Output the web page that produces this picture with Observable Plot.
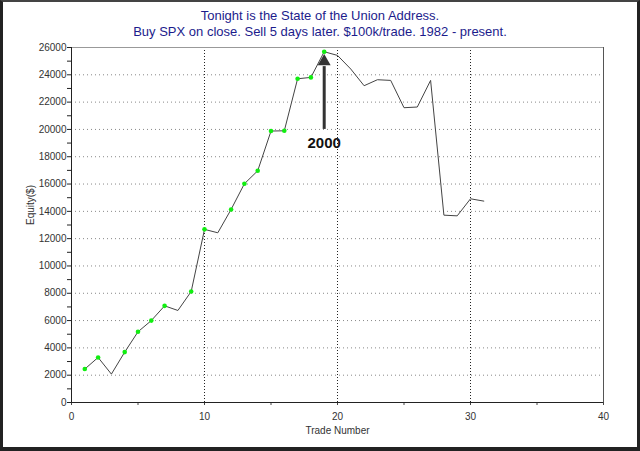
<!DOCTYPE html>
<html>
<head>
<meta charset="utf-8">
<script src="https://cdn.jsdelivr.net/npm/d3@7"></script>
<script src="https://cdn.jsdelivr.net/npm/@observablehq/plot@0.6"></script>
<style>
  html, body { margin: 0; padding: 0; background: #fff; }
  #wrap {
    width: 640px; height: 451px; box-sizing: border-box;
    border-left: 3px solid #222; border-right: 3px solid #222;
    border-top: 2px solid #444; border-bottom: 4px solid #222;
    background: #fff; overflow: hidden;
  }
  #title {
    height: 36px; box-sizing: border-box; padding-top: 6px;
    font-family: "Liberation Sans", Arial, sans-serif; font-size: 13px; line-height: 16px;
    color: #1c1c8c; text-align: center;
  }
  #chart svg { display: block; overflow: visible; }
</style>
</head>
<body>
<div id="wrap">
  <div id="title">Tonight is the State of the Union Address.<br>Buy SPX on close. Sell 5 days later. $100k/trade. 1982 - present.</div>
  <div id="chart"></div>
</div>
<script>
// Data
const trades = [1,2,3,4,5,6,7,8,9,10,11,12,13,14,15,16,17,18,19,20,21,22,23,24,25,26,27,28,29,30,31];
const equity = [2450,3300,2080,3690,5180,6000,7080,6740,8130,12680,12430,14140,16020,16970,19880,19900,23710,23810,25690,25420,24420,23200,23640,23590,21590,21640,23590,13720,13670,14920,14750];
const highTrades = [1,2,4,5,6,7,9,10,12,13,14,15,16,17,18,19];

const xTicks = [0,5,10,15,20,25,30,35,40];
const xLabelTicks = [0,10,20,30,40];
const yTicks = [0,1000,2000,3000,4000,5000,6000,7000,8000,9000,10000,11000,12000,13000,14000,15000,16000,17000,18000,19000,20000,21000,22000,23000,24000,25000,26000];
const yLabelTicks = [0,2000,4000,6000,8000,10000,12000,14000,16000,18000,20000,22000,24000,26000];
const yGrid = [2000,4000,6000,8000,10000,12000,14000,16000,18000,20000,22000,24000];
const xGrid = [10,20,30];

// Annotation
const annTrade = [19];
const annLabel = ["2000"];
const annLabelY = [19000];
const arrowFrom = [20000];
const arrowHeadBase = [24600];
const arrowHeadY = [24980];

const data = trades.map((t, i) => ({trade: t, equity: equity[i]}));
const highs = data.filter(d => highTrades.includes(d.trade));
const ann = annTrade.map((t, i) => ({trade: t, label: annLabel[i], ly: annLabelY[i], y1: arrowFrom[i], y2: arrowHeadBase[i], hy: arrowHeadY[i]}));

const chart = Plot.plot({
  width: 634,
  height: 409,
  marginLeft: 68,
  marginRight: 34,
  marginTop: 9,
  marginBottom: 45,
  style: {fontFamily: "'Liberation Sans', Arial, sans-serif", fontSize: "10px", color: "#333", background: "#fff", overflow: "visible"},
  x: {domain: [0, 40], label: null},
  y: {domain: [0, 26000], label: null},
  marks: [
    Plot.gridY(yGrid, {stroke: "#888", strokeOpacity: 1, strokeDasharray: "1,3"}),
    Plot.gridX(xGrid, {stroke: "#222", strokeOpacity: 1, strokeDasharray: "1,2"}),
    Plot.ruleY([26000], {stroke: "#999", strokeWidth: 1}),
    Plot.ruleX([40], {stroke: "#555", strokeWidth: 1}),
    Plot.axisY({ticks: yTicks, tickSize: 4, tickPadding: 1, tickFormat: d => yLabelTicks.includes(d) ? String(d) : "", stroke: "#222", fill: "#333"}),
    Plot.axisX({ticks: xTicks, tickSize: 3, tickPadding: 7, tickFormat: d => xLabelTicks.includes(d) ? String(d) : "", stroke: "#444", fill: "#333"}),
    Plot.ruleY([0], {stroke: "#222"}),
    Plot.ruleX([0], {stroke: "#222"}),
    Plot.text(["Trade Number"], {frameAnchor: "bottom", dy: 31, text: d => d, fill: "#333", fontSize: 10}),
    Plot.text(["Equity($)"], {frameAnchor: "left", dx: -41, rotate: -90, text: d => d, fill: "#333", fontSize: 10}),
    Plot.line(data, {x: "trade", y: "equity", stroke: "#444", strokeWidth: 1}),
    Plot.dot(highs, {x: "trade", y: "equity", r: 2.3, fill: "#11ee11", stroke: "none"}),
    Plot.ruleX(ann, {x: "trade", y1: "y1", y2: "y2", stroke: "#333", strokeWidth: 3}),
    Plot.dot(ann, {x: "trade", y: "hy", symbol: "triangle", r: 4.8, fill: "#333", stroke: "none"}),
    Plot.text(ann, {x: "trade", y: "ly", text: "label", fontSize: 15, fontWeight: "bold", fill: "#111"})
  ]
});
document.getElementById("chart").appendChild(chart);
</script>
</body>
</html>
